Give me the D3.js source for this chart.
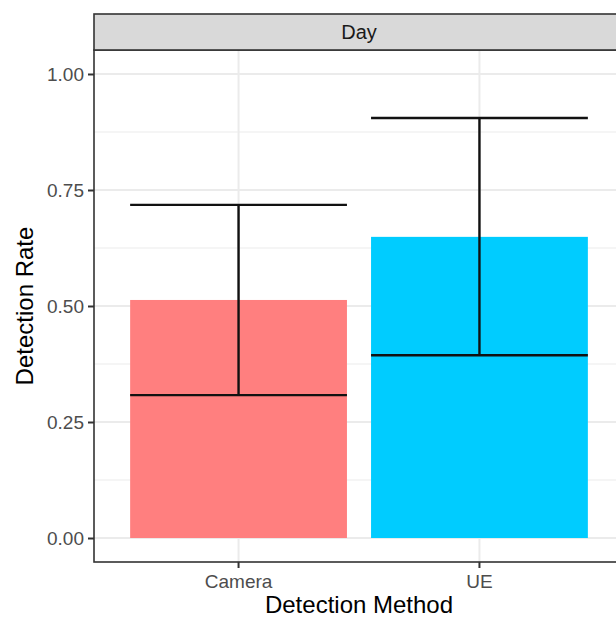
<!DOCTYPE html>
<html>
<head>
<meta charset="utf-8">
<script src="https://cdn.jsdelivr.net/npm/d3@7"></script>
<style>
  html, body { margin: 0; padding: 0; background: #fff; }
  svg { display: block; font-family: Arial, "Liberation Sans", sans-serif; }
</style>
</head>
<body>
<svg id="chart" width="616" height="618"></svg>
<script>
const categories = ["Camera", "UE"];
const rates = [0.513, 0.649];
const lowerCI = [0.308, 0.394];
const upperCI = [0.718, 0.905];
const barColors = ["#FF7F7F", "#00CCFF"];
const yTicks = [0, 0.25, 0.5, 0.75, 1.0];
const yTickLabels = ["0.00", "0.25", "0.50", "0.75", "1.00"];
const yMinorTicks = [0.125, 0.375, 0.625, 0.875];
const facetLabel = "Day";
const xTitle = "Detection Method";
const yTitle = "Detection Rate";

const svg = d3.select("#chart");
const panel = { left: 94, right: 624, top: 50, bottom: 562 };
const strip = { top: 14, bottom: 50 };

const x = d3.scaleBand().domain(categories).range([panel.left, panel.right])
  .paddingInner(0.1).paddingOuter(0.15);
const y = d3.scaleLinear().domain([-0.0517, 1.0517]).range([panel.bottom, panel.top]);

const data = categories.map((c, i) => ({ cat: c, v: rates[i], lo: lowerCI[i], hi: upperCI[i], col: barColors[i] }));

// panel background
svg.append("rect").attr("x", panel.left).attr("y", panel.top)
  .attr("width", panel.right - panel.left).attr("height", panel.bottom - panel.top)
  .attr("fill", "#fff");

// gridlines
const grid = svg.append("g");
grid.selectAll(".ymin").data(yMinorTicks).join("line")
  .attr("x1", panel.left).attr("x2", panel.right)
  .attr("y1", d => y(d)).attr("y2", d => y(d))
  .attr("stroke", "#EBEBEB").attr("stroke-width", 1);
grid.selectAll(".ymaj").data(yTicks).join("line")
  .attr("x1", panel.left).attr("x2", panel.right)
  .attr("y1", d => y(d)).attr("y2", d => y(d))
  .attr("stroke", "#EBEBEB").attr("stroke-width", 2);
grid.selectAll(".xmaj").data(categories).join("line")
  .attr("x1", d => x(d) + x.bandwidth() / 2).attr("x2", d => x(d) + x.bandwidth() / 2)
  .attr("y1", panel.top).attr("y2", panel.bottom)
  .attr("stroke", "#EBEBEB").attr("stroke-width", 2);

// bars
svg.append("g").selectAll("rect").data(data).join("rect")
  .attr("x", d => x(d.cat)).attr("width", x.bandwidth())
  .attr("y", d => y(d.v)).attr("height", d => y(0) - y(d.v))
  .attr("fill", d => d.col);

// error bars
const eb = svg.append("g").attr("stroke", "#111").attr("stroke-width", 2.4).attr("fill", "none");
data.forEach(d => {
  const cx = x(d.cat) + x.bandwidth() / 2;
  eb.append("line").attr("x1", cx).attr("x2", cx).attr("y1", y(d.lo)).attr("y2", y(d.hi));
  eb.append("line").attr("x1", x(d.cat)).attr("x2", x(d.cat) + x.bandwidth()).attr("y1", y(d.lo)).attr("y2", y(d.lo));
  eb.append("line").attr("x1", x(d.cat)).attr("x2", x(d.cat) + x.bandwidth()).attr("y1", y(d.hi)).attr("y2", y(d.hi));
});

// panel border
svg.append("rect").attr("x", panel.left).attr("y", panel.top)
  .attr("width", panel.right - panel.left).attr("height", panel.bottom - panel.top)
  .attr("fill", "none").attr("stroke", "#333").attr("stroke-width", 1.6);

// strip
svg.append("rect").attr("x", panel.left).attr("y", strip.top)
  .attr("width", panel.right - panel.left).attr("height", strip.bottom - strip.top)
  .attr("fill", "#D9D9D9").attr("stroke", "#333").attr("stroke-width", 1.6);
svg.append("text").attr("x", (panel.left + panel.right) / 2).attr("y", (strip.top + strip.bottom) / 2)
  .attr("text-anchor", "middle").attr("dominant-baseline", "central")
  .attr("font-size", 20).attr("fill", "#1A1A1A").text(facetLabel);

// y axis
const yAxis = d3.axisLeft(y).tickValues(yTicks).tickSize(6).tickPadding(4)
  .tickFormat((d, i) => yTickLabels[i]);
const gy = svg.append("g").attr("transform", `translate(${panel.left},0)`).call(yAxis);
gy.select(".domain").remove();
gy.selectAll(".tick line").attr("stroke", "#333").attr("stroke-width", 2);
gy.selectAll(".tick text").attr("fill", "#4D4D4D").attr("font-size", 19).attr("font-family", "Arial, 'Liberation Sans', sans-serif");

// x axis
const xAxis = d3.axisBottom(x).tickSize(6).tickPadding(7);
const gx = svg.append("g").attr("transform", `translate(0,${panel.bottom})`).call(xAxis);
gx.select(".domain").remove();
gx.selectAll(".tick line").attr("stroke", "#333").attr("stroke-width", 2);
gx.selectAll(".tick text").attr("fill", "#4D4D4D").attr("font-size", 19).attr("font-family", "Arial, 'Liberation Sans', sans-serif");

// axis titles
svg.append("text").attr("x", (panel.left + panel.right) / 2).attr("y", 613)
  .attr("text-anchor", "middle").attr("font-size", 24).attr("fill", "#000").text(xTitle);
svg.append("text").attr("transform", `translate(33,${(panel.top + panel.bottom) / 2}) rotate(-90)`)
  .attr("text-anchor", "middle").attr("font-size", 24).attr("fill", "#000").text(yTitle);
</script>
</body>
</html>
